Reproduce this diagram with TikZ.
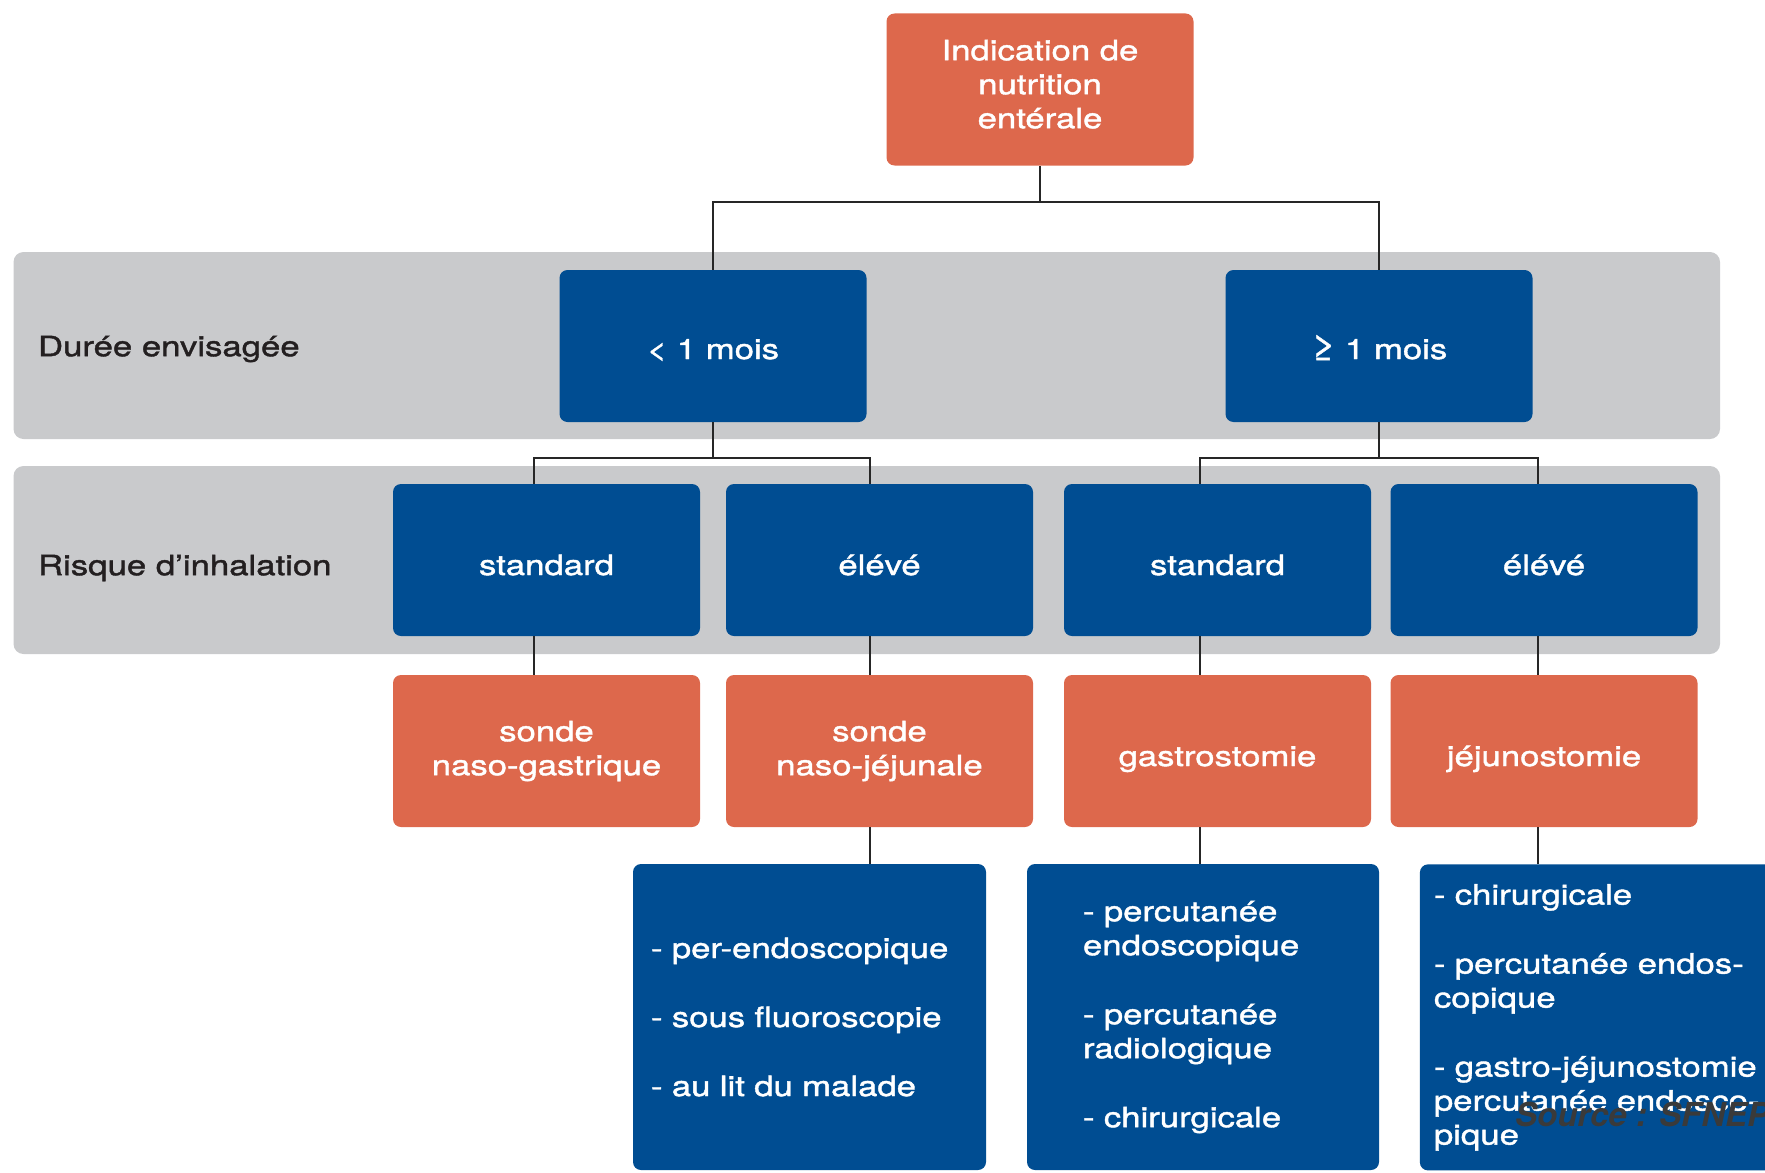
\documentclass[tikz,border=0pt]{standalone}
\usepackage{fontspec}
\setmainfont{TeX Gyre Heros}[FakeStretch=1.24,FakeBold=1.4]
\newfontfamily\srcfont{TeX Gyre Heros}
\usetikzlibrary{calc}

\definecolor{orangebox}{RGB}{221,104,76}
\definecolor{bluebox}{RGB}{0,77,146}
\definecolor{bandgray}{RGB}{201,202,204}
\definecolor{labeltext}{RGB}{35,31,32}
\definecolor{sourcetext}{RGB}{58,58,58}

\begin{document}
\begin{tikzpicture}[x=0.5pt,y=-0.5pt,
    txt/.style={font=\fontsize{14}{17}\selectfont},
    box/.style={txt,rounded corners=4pt,text=white,align=center,
      minimum width=153.5pt,minimum height=76pt,inner sep=0pt},
    ind/.style={box,fill=orangebox},
    dur/.style={box,fill=bluebox},
    oneline/.style={text height=15pt,text depth=0pt},
    voie/.style={txt,rounded corners=4pt,text=white,fill=bluebox,
      align=left,minimum height=153pt,inner ysep=0pt},
    band/.style={fill=bandgray,rounded corners=5pt},
    link/.style={draw=black!85,line width=1pt}]
  \useasboundingbox (0,0) rectangle (1765,1172);

  % bandes grises
  \fill[band] (13.5,252) rectangle (1720,439);
  \fill[band] (13.5,466) rectangle (1720,654);

  \node[txt,text=labeltext,anchor=west] (lduree) at (31,349) {Durée envisagée};
  \node[txt,text=labeltext,anchor=west] (lrisque) at (31,568) {Risque d’inhalation};

  \node[ind,text depth=5.5pt] (top) at (1040,89.5) {Indication de\\nutrition\\entérale};

  \node[dur,text height=13pt,text depth=0pt] (m1) at (713,346) {< 1 mois};
  \node[dur,text height=13pt,text depth=0pt] (m2) at (1379,346)
    {{\fontsize{17}{17}\selectfont ≥} 1 mois};

  \node[dur,oneline] (s1) at (546.5,560) {standard};
  \node[dur,oneline] (e1) at (879.5,560) {élévé};
  \node[dur,oneline] (s2) at (1217.5,560) {standard};
  \node[dur,oneline] (e2) at (1544,560) {élévé};

  \node[ind] (o1) at (546.5,751) {sonde\\naso-gastrique};
  \node[ind] (o2) at (879.5,751) {sonde\\naso-jéjunale};
  \node[ind,oneline] (o3) at (1217.5,751) {gastrostomie};
  \node[ind,oneline] (o4) at (1544,751) {jéjunostomie};

  \node[voie,text width=158.5pt,inner xsep=9pt] (la) at (809.5,1017)
    {- per-endoscopique\\[17.5pt]- sous fluoroscopie\\[17.5pt]- au lit du malade};
  \node[voie,text width=120pt,inner xsep=28pt] (lb) at (1203,1017)
    {- percutanée\\endoscopique\\[17.5pt]- percutanée\\radiologique\\[17.5pt]- chirurgicale};
  \node[voie,text width=190pt,inner xsep=7pt,anchor=north west] (lc) at (1419.5,864)
    {- chirurgicale\\[17.5pt]- percutanée endos-\\copique\\[17.5pt]- gastro-jéjunostomie\\percutanée endosco-\\pique};

  \coordinate (j0) at (1040,201.5);
  \coordinate (j1) at (713,458);
  \coordinate (j2) at (1379,458);
  % colonnes des traits verticaux
  \coordinate (c1) at (533.6,0);
  \coordinate (c2) at (870.2,0);
  \coordinate (c3) at (1200,0);
  \coordinate (c4) at (1537.7,0);

  \draw[link] (top.south) -- (j0);
  \draw[link] (j0) -| (m1.north);
  \draw[link] (j0) -| (m2.north);

  \draw[link] (m1.south) -- (j1);
  \draw[link] (j1) -| (c1 |- s1.north);
  \draw[link] (j1) -| (c2 |- e1.north);
  \draw[link] (m2.south) -- (j2);
  \draw[link] (j2) -| (c3 |- s2.north);
  \draw[link] (j2) -| (c4 |- e2.north);

  \draw[link] (c1 |- s1.south) -- (c1 |- o1.north);
  \draw[link] (c2 |- e1.south) -- (c2 |- o2.north);
  \draw[link] (c3 |- s2.south) -- (c3 |- o3.north);
  \draw[link] (c4 |- e2.south) -- (c4 |- o4.north);

  \draw[link] (c2 |- o2.south) -- (c2 |- la.north);
  \draw[link] (c3 |- o3.south) -- (c3 |- lb.north);
  \draw[link] (c4 |- o4.south) -- (c4 |- lc.north);

  \node[anchor=west,text=sourcetext,font=\srcfont\bfseries\itshape\fontsize{16.5}{20}\selectfont]
    (src) at (1508,1114) {Source : SFNEP};
\end{tikzpicture}
\end{document}
